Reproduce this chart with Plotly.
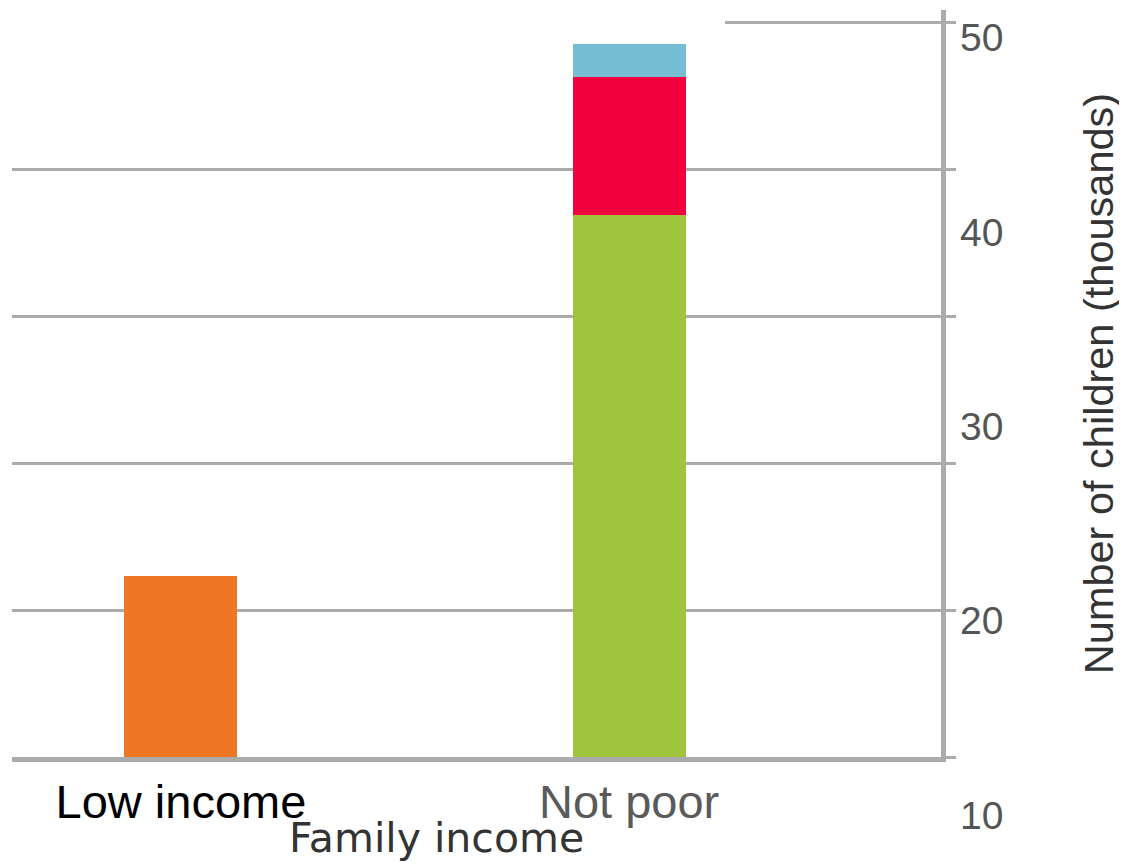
import plotly.graph_objects as go

# ---- data ----
categories = ["Low income", "Not poor"]
low_income = [22.3, None]
not_poor_base = [None, 40.9]
not_poor_mid = [None, 7.1]
not_poor_top = [None, 1.7]
y_tick_values = [10, 20, 30, 40, 50]
x_tick_labels = ['<span style="color:#000000">Low income</span>', "Not poor"]

W, H = 1127, 864
OFF = 8  # page body margin
GRID = "#ababab"

fig = go.Figure()
bar_w = 0.252
fig.add_trace(go.Bar(x=[0, 1], y=low_income, name="Low income",
                     marker=dict(color="#ee7624", line=dict(width=0)), width=bar_w))
fig.add_trace(go.Bar(x=[0, 1], y=not_poor_base, name="Not poor (1)",
                     marker=dict(color="#a0c43b", line=dict(width=0)), width=bar_w))
fig.add_trace(go.Bar(x=[0, 1], y=not_poor_mid, name="Not poor (2)",
                     marker=dict(color="#f0003c", line=dict(width=0)), width=bar_w))
fig.add_trace(go.Bar(x=[0, 1], y=not_poor_top, name="Not poor (3)",
                     marker=dict(color="#74bdd2", line=dict(width=0)), width=bar_w))
# carrier for the labelled value axis
fig.add_trace(go.Scatter(x=[None], y=[None], xaxis="x", yaxis="y2", showlegend=False, hoverinfo="skip"))

def py(p):  # screen pixel from top -> paper fraction
    return (H - (p - OFF)) / H

def px(p):
    return (p - OFF) / W

fig.update_layout(
    width=W, height=H,
    margin=dict(l=0, r=0, t=0, b=0),
    paper_bgcolor="white", plot_bgcolor="rgba(0,0,0,0)",
    barmode="stack", showlegend=False,
    font=dict(family="Liberation Sans, Arial, sans-serif"),
    xaxis=dict(
        domain=[px(12), px(941)], range=[-0.377, 1.696], anchor="y",
        tickmode="array", tickvals=[0, 1], ticktext=x_tick_labels,
        tickfont=dict(size=47, color="#5a5a5a", family="Liberation Sans, Arial"),
        ticks="", ticklabelstandoff=0,
        showgrid=False, zeroline=False,
        showline=True, linecolor=GRID, linewidth=5,
    ),
    yaxis=dict(
        domain=[py(757), py(10)], range=[13.0, 51.43], anchor="x", side="right",
        tick0=13.0, dtick=7.56, showticklabels=False,
        showgrid=True, gridcolor=GRID, gridwidth=3,
        ticks="outside", ticklen=10, tickwidth=3, tickcolor=GRID,
        showline=True, linecolor=GRID, linewidth=5, zeroline=False,
        automargin=False,
        title=dict(text="Number of children (thousands)",
                   font=dict(size=41.5, color="#333333", family="Liberation Sans, Arial"),
                   standoff=130),
    ),
    yaxis2=dict(
        domain=[0, 1], range=[7.49 - OFF / 19.44, 51.93 - OFF / 19.44], anchor="x", side="right",
        tickmode="array", tickvals=y_tick_values,
        tickfont=dict(size=39, color="#555555", family="Liberation Sans, Arial"),
        ticks="", ticklabelstandoff=18,
        showgrid=False, showline=False, zeroline=False, automargin=False,
    ),
    annotations=[dict(
        text="Family income", xref="paper", yref="paper",
        x=px(436), y=py(838), xanchor="center", yanchor="middle",
        showarrow=False, font=dict(size=41, color="#333333", family="DejaVu Sans, sans-serif"),
    )],
    shapes=[dict(
        type="rect", layer="above", xref="paper", yref="y",
        x0=0, x1=px(725), y0=50.3, y1=51.35,
        fillcolor="white", line=dict(width=0),
    )],
)

fig.write_html("out.html")
